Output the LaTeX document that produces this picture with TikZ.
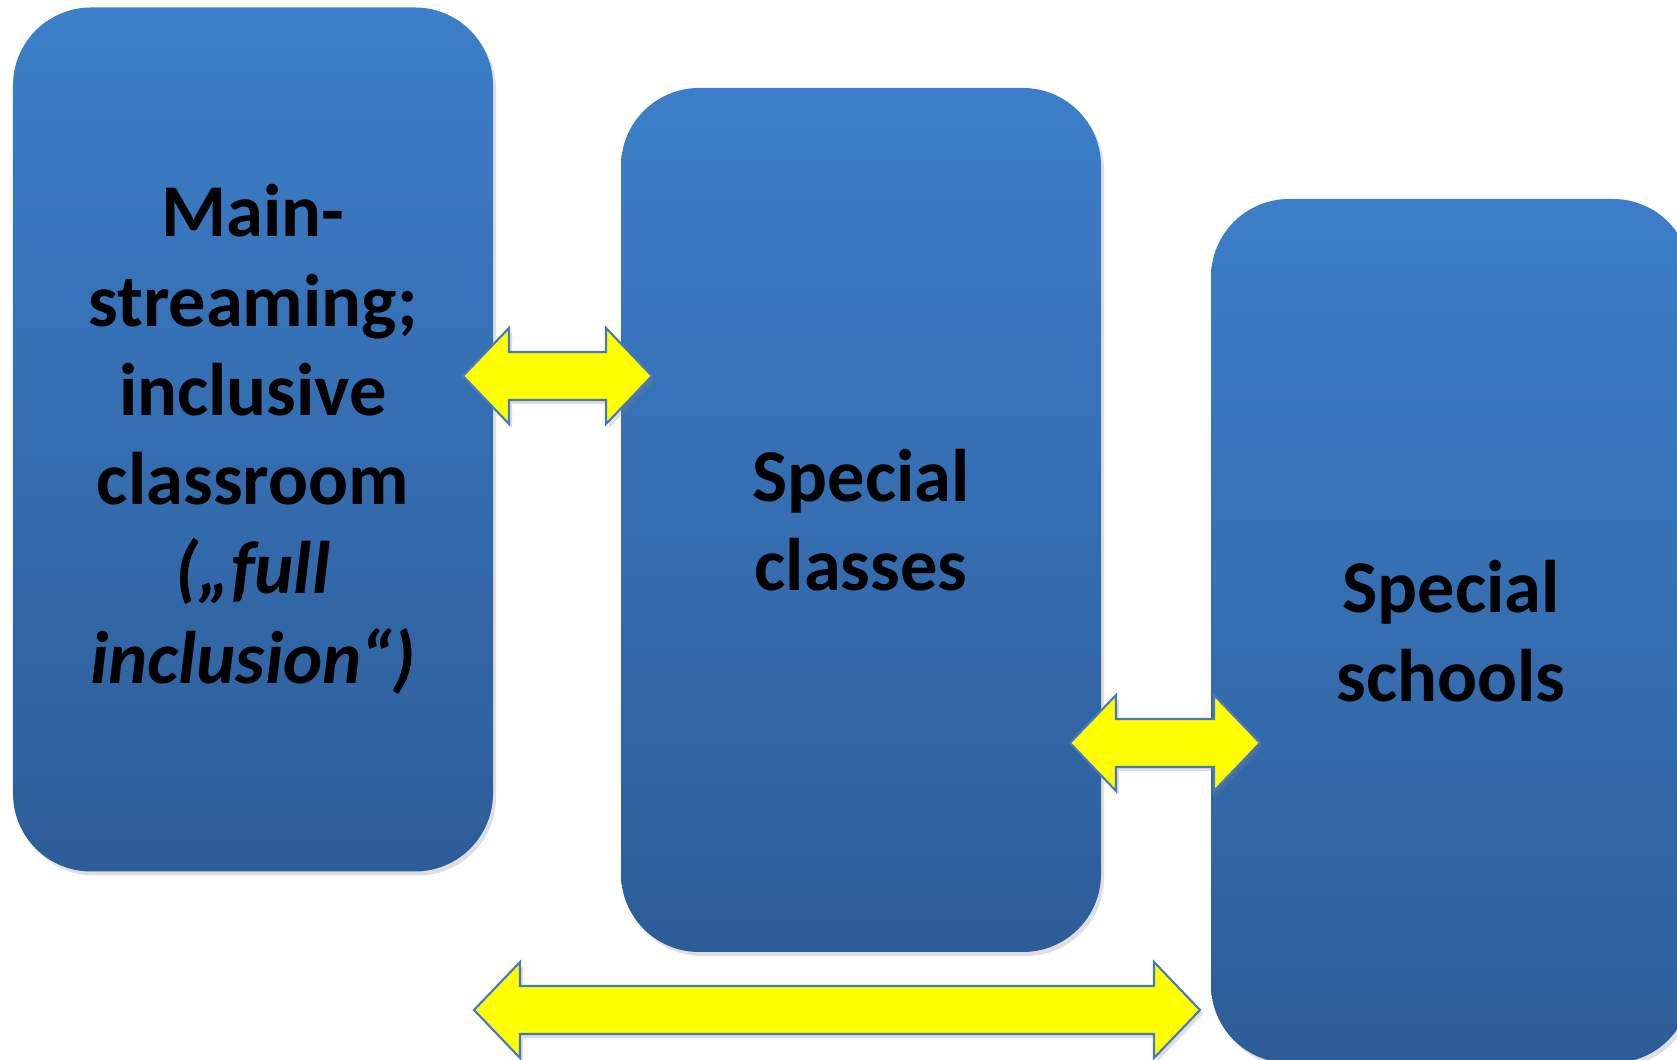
\documentclass[tikz,border=0pt]{standalone}
\usepackage{fontspec}
\setmainfont{Carlito}
\usetikzlibrary{calc,shadows}

\definecolor{boxtop}{RGB}{60,126,201}
\definecolor{boxbottom}{RGB}{45,93,152}
\definecolor{arrowline}{RGB}{72,121,190}
\definecolor{arrowfill}{RGB}{255,255,0}

\tikzset{
  setting/.style={rounded corners=0.78cm, top color=boxtop, bottom color=boxbottom,
    minimum width=4.8cm, minimum height=8.64cm, align=center, text=black,
    font=\bfseries\fontsize{21.2}{25.4}\selectfont,
    drop shadow={opacity=0.25, shadow xshift=0.03cm, shadow yshift=-0.04cm}},
  twoway/.style={fill=arrowfill, draw=arrowline, line width=0.6pt,
    drop shadow={opacity=0.25, shadow xshift=0.03cm, shadow yshift=-0.04cm}}
}

% double headed block arrow between two tips
\newcommand{\bothways}[2]{%
  \draw[twoway] (#1) -- ++(0.46,0.48) -- ++(0,-0.24) -- ($(#2)+(-0.46,0.24)$)
    -- ++(0,0.24) -- (#2) -- ++(-0.46,-0.48) -- ++(0,0.24)
    -- ($(#1)+(0.46,-0.24)$) -- ++(0,-0.24) -- cycle;
}

\begin{document}
\begin{tikzpicture}
  \useasboundingbox (0,0) rectangle (16.77,10.6);

  % The three settings, stepping down from left to right
  \node[setting] (mainstream) at (2.53,6.205)
    {Main-\\streaming;\\inclusive\\classroom\\\textit{(„full}\\\textit{inclusion“)}};
  \node[setting] (classes) at (8.61,5.40) {Special\\classes};
  \node[setting] (schools) at (14.51,4.29) {Special\\schools};

  % Tips of the yellow arrows
  \coordinate (one left)    at (4.63,6.84);
  \coordinate (one right)   at (6.52,6.84);
  \coordinate (two left)    at (10.70,3.17);
  \coordinate (two right)   at (12.60,3.17);
  \coordinate (three left)  at (4.74,0.50);
  \coordinate (three right) at (12.00,0.50);

  % Moves between the settings
  \bothways{one left}{one right}
  \bothways{two left}{two right}
  \bothways{three left}{three right}
\end{tikzpicture}
\end{document}
